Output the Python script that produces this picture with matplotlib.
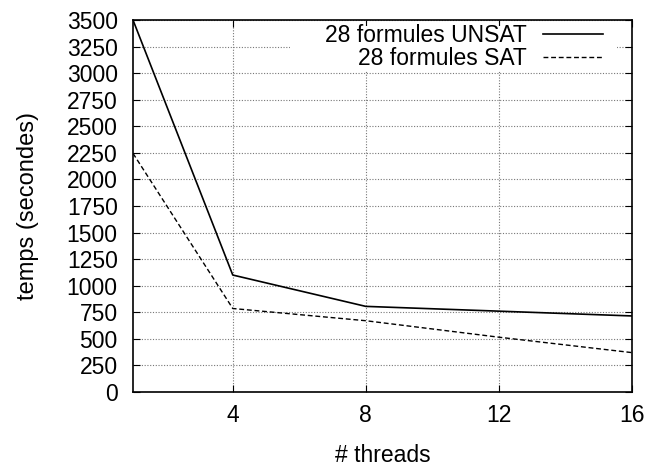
import matplotlib.pyplot as plt
from matplotlib.patches import Rectangle

plt.rcParams['font.family'] = ['Liberation Sans', 'DejaVu Sans']

threads = [1, 4, 8, 12, 16]
temps_unsat = [3500, 1100, 805, 760, 715]
temps_sat = [2245, 785, 670, 515, 370]

fig = plt.figure(figsize=(6.52, 4.66), dpi=100)
ax = fig.add_axes([0.204, 0.159, 0.765, 0.798])

ax.plot(threads, temps_unsat, color='black', lw=1.2, label='28 formules UNSAT', zorder=3)
ax.plot(threads, temps_sat, color='black', lw=1.0, ls=(0, (3.5, 2)), label='28 formules SAT', zorder=3)

ax.set_xlim(1, 16)
ax.set_ylim(0, 3500)
ax.set_xticks([4, 8, 12, 16])
ax.set_yticks(range(0, 3501, 250))
ax.tick_params(direction='in', labelsize=16.5, length=5, top=True, right=True)
ax.tick_params(axis='x', pad=9)
ax.tick_params(axis='y', pad=11)
ax.grid(True, color='#777777', ls=(0, (1, 1.5)), lw=0.8)
for s in ax.spines.values():
    s.set_linewidth(1.2)
    s.set_zorder(4)

ax.set_xlabel('# threads', fontsize=16.5, labelpad=12)
ax.set_ylabel('temps (secondes)', fontsize=17, labelpad=20)

# white box behind the key, hiding the grid (top ticks stay visible)
ax.add_patch(Rectangle((0.315, 0.862), 0.655, 0.122, transform=ax.transAxes,
                       facecolor='white', edgecolor='none', zorder=2))

leg = ax.legend(loc='upper right', bbox_to_anchor=(0.942, 0.99), fontsize=16.5,
                markerfirst=False, frameon=False, handlelength=2.6,
                handletextpad=0.72, borderaxespad=0, borderpad=0, labelspacing=0)
leg.set_zorder(5)
for t in leg.get_texts():
    t.set_ha('right')

fig.savefig('out.png', dpi=100)
